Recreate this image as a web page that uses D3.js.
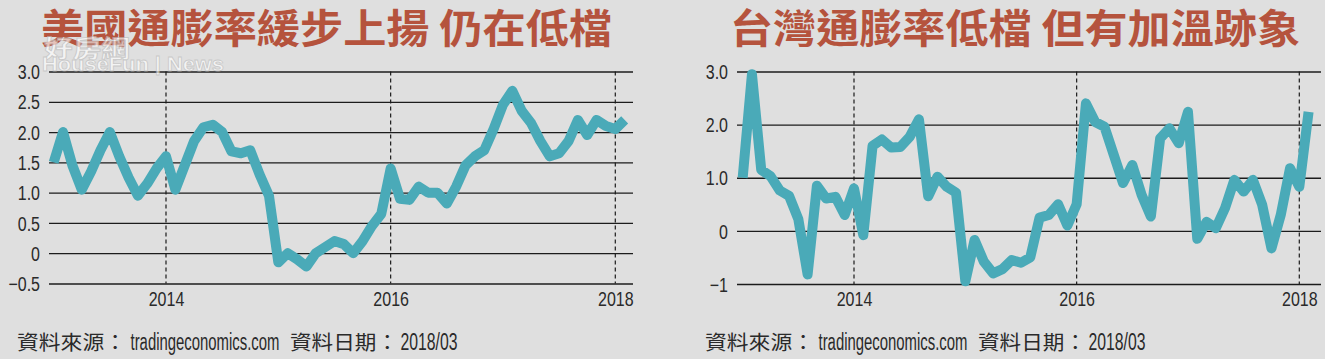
<!DOCTYPE html>
<html><head><meta charset="utf-8">
<script src="https://cdn.jsdelivr.net/npm/d3@7"></script>
<style>
html,body{margin:0;padding:0;background:#dfdfdf;}
svg{display:block;}
</style></head><body>
<svg id="c" width="1325" height="359"></svg>
<script>
// ---- data (monthly, Jan 2013 .. Feb 2018; month index 0 = Jan 2013) ----
const usValues = [
  1.5, 2.0, 1.45, 1.05, 1.35, 1.7, 2.0, 1.6, 1.25, 0.95, 1.15, 1.4,
  1.6, 1.05, 1.45, 1.85, 2.08, 2.12, 2.0, 1.68, 1.65, 1.7, 1.3, 0.95,
  -0.15, 0.0, -0.1, -0.22, 0.0, 0.1, 0.2, 0.15, 0.0, 0.2, 0.45, 0.65,
  1.4, 0.9, 0.88, 1.1, 1.0, 1.0, 0.82, 1.1, 1.45, 1.6, 1.7, 2.05,
  2.45, 2.68, 2.35, 2.15, 1.85, 1.6, 1.65, 1.85, 2.2, 1.95, 2.2, 2.1,
  2.05, 2.2
];
const twValues = [
  1.0, 2.95, 1.15, 1.03, 0.76, 0.66, 0.22, -0.82, 0.85, 0.61, 0.64, 0.3,
  0.8, -0.08, 1.6, 1.72, 1.57, 1.58, 1.77, 2.1, 0.65, 1.02, 0.83, 0.72,
  -0.95, -0.17, -0.58, -0.8, -0.72, -0.55, -0.6, -0.5, 0.25, 0.3, 0.5, 0.1,
  0.5, 2.4, 2.05, 1.96, 1.43, 0.9, 1.24, 0.68, 0.27, 1.74, 1.93, 1.65,
  2.24, -0.15, 0.17, 0.05, 0.43, 0.96, 0.74, 0.96, 0.49, -0.33, 0.3, 1.18,
  0.83, 2.24
];
const yearTickMonths = [12, 36, 60];
const yearTickLabels = ["2014", "2016", "2018"];
const usYTicks = [-0.5, 0, 0.5, 1, 1.5, 2, 2.5, 3];
const twYTicks = [-1, 0, 1, 2, 3];
const titles = ["美國通膨率緩步上揚 仍在低檔", "台灣通膨率低檔 但有加溫跡象"];
const sourceParts = ["資料來源：", "tradingeconomics.com", "資料日期：", "2018/03"];

// ---- layout ----
const footerSlots = [[0, 109], [113.5, 149], [273, 108], [383.5, 57]]; // [offset, width]
const panels = [
  {values: usValues, yTicks: usYTicks, yDomain: [-0.5, 3.0],
   plotL: 49, plotR: 633, x14: 166, x18: 615.3, yTop: 71.5, yBot: 283.5,
   titleX0: 41, titleX1: 612, footX0: 17, title: titles[0]},
  {values: twValues, yTicks: twYTicks, yDomain: [-1, 3],
   plotL: 737, plotR: 1321, x14: 854, x18: 1299.3, yTop: 71.5, yBot: 284,
   titleX0: 730, titleX1: 1300, footX0: 705, title: titles[1]}
];

const svg = d3.select("#c");
svg.append("rect").attr("width", 1325).attr("height", 359).attr("fill", "#dfdfdf");

const NUM_FONT = "'Liberation Sans',Arimo,sans-serif";
const CJK_FONT = "'Noto Sans CJK TC','Noto Sans CJK SC',sans-serif";
const fmt = d3.format(".1f");
const tickFmt = d => d === 0 ? "0" : (Number.isInteger(d) && d < 0 ? "\u2212" + Math.abs(d) : fmt(d));

// condense Latin text (reference uses a narrow typeface)
function narrow(sel, k) {
  sel.each(function () {
    const w = this.getComputedTextLength();
    d3.select(this).attr("textLength", w * k).attr("lengthAdjust", "spacingAndGlyphs");
  });
}

panels.forEach(p => {
  const x = d3.scaleLinear().domain([12, 60]).range([p.x14, p.x18]);
  const y = d3.scaleLinear().domain(p.yDomain).range([p.yBot, p.yTop]);
  const g = svg.append("g");

  // horizontal gridlines + y labels
  const ya = g.append("g").attr("transform", `translate(${p.plotL},0)`)
    .call(d3.axisLeft(y).tickValues(p.yTicks).tickFormat(tickFmt)
      .tickSizeInner(-(p.plotR - p.plotL)).tickSizeOuter(0).tickPadding(9));
  ya.select(".domain").remove();
  ya.selectAll(".tick line").attr("stroke", "#1c1c1c").attr("stroke-width", 1.3);
  ya.selectAll(".tick text").attr("font-family", NUM_FONT).attr("font-size", 20)
    .attr("fill", "#2a2a2a").attr("dy", "0.36em").call(narrow, 0.8);

  // dashed year lines
  g.selectAll("line.yr").data(yearTickMonths).join("line")
    .attr("x1", d => x(d)).attr("x2", d => x(d))
    .attr("y1", p.yTop).attr("y2", p.yBot)
    .attr("stroke", "#1c1c1c").attr("stroke-width", 1.2).attr("stroke-dasharray", "4,3");

  // x labels
  const xa = g.append("g").attr("transform", `translate(0,${p.yBot})`)
    .call(d3.axisBottom(x).tickValues(yearTickMonths)
      .tickFormat((d, i) => yearTickLabels[i]).tickSize(0).tickPadding(8));
  xa.select(".domain").remove();
  xa.selectAll(".tick text").attr("font-family", NUM_FONT).attr("font-size", 20)
    .attr("fill", "#2a2a2a").call(narrow, 0.8);

  // line
  const line = d3.line().x((d, i) => x(i)).y(d => y(d)).curve(d3.curveLinear);
  g.append("path").datum(p.values).attr("d", line)
    .attr("fill", "none").attr("stroke", "#4aaab8").attr("stroke-width", 10)
    .attr("stroke-linejoin", "round").attr("stroke-linecap", "butt");

  // title
  svg.append("text").attr("x", p.titleX0).attr("y", 43)
    .attr("font-family", CJK_FONT).attr("font-weight", "bold").attr("font-size", 40)
    .attr("fill", "#b5533d")
    .attr("textLength", p.titleX1 - p.titleX0).attr("lengthAdjust", "spacingAndGlyphs")
    .text(p.title);

  // footer
  sourceParts.forEach((s, i) => {
    const [off, w] = footerSlots[i];
    svg.append("text").attr("x", p.footX0 + off).attr("y", 350)
      .attr("font-family", i % 2 === 0 ? CJK_FONT : NUM_FONT)
      .attr("font-size", i % 2 === 0 ? 20 : 23).attr("fill", "#2a2a2a")
      .attr("textLength", w).attr("lengthAdjust", "spacingAndGlyphs")
      .text(s);
  });
});

// watermark
const wm = svg.append("g").attr("opacity", 0.65);
wm.append("text").attr("x", 44).attr("y", 57).attr("font-family", CJK_FONT)
  .attr("font-weight", "bold").attr("font-size", 24).attr("fill", "#ffffff")
  .attr("stroke", "#bdbdbd").attr("stroke-width", 0.8)
  .attr("textLength", 86).attr("lengthAdjust", "spacingAndGlyphs").text("好房網");
wm.append("text").attr("x", 42).attr("y", 71).attr("font-family", "'Liberation Sans',sans-serif")
  .attr("font-weight", "bold").attr("font-size", 20).attr("fill", "#ffffff")
  .attr("stroke", "#bdbdbd").attr("stroke-width", 0.8)
  .attr("textLength", 182).attr("lengthAdjust", "spacingAndGlyphs").text("HouseFun | News");
</script>
</body></html>
